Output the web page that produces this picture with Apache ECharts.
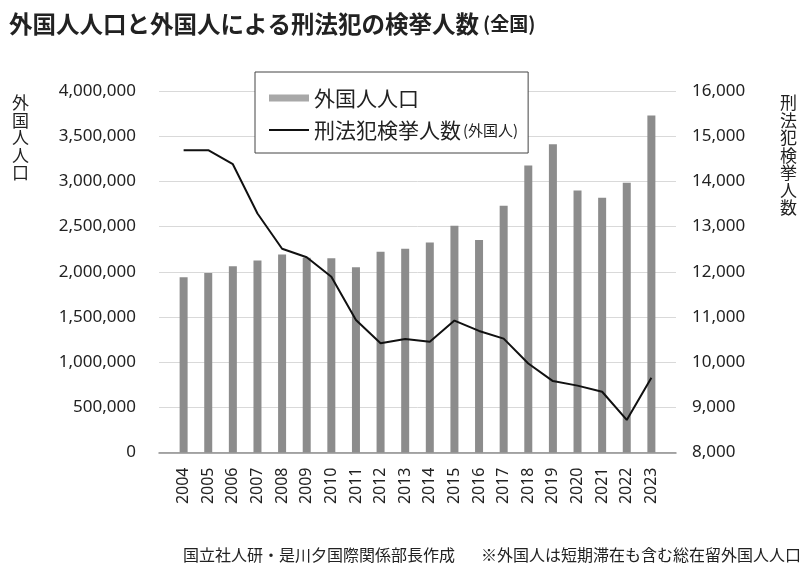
<!DOCTYPE html>
<html>
<head>
<meta charset="utf-8">
<script src="https://cdn.jsdelivr.net/npm/echarts@6/dist/echarts.min.js"></script>
<style>
  html, body { margin: 0; padding: 0; background: #fff; }
  #main { width: 810px; height: 572px; }
</style>
</head>
<body>
<div id="main"></div>
<script>
// 年
var years = ['2004', '2005', '2006', '2007', '2008', '2009', '2010', '2011', '2012', '2013',
             '2014', '2015', '2016', '2017', '2018', '2019', '2020', '2021', '2022', '2023'];
// 外国人人口 (左軸)
var population = [1940000, 1985000, 2060000, 2125000, 2190000, 2155000, 2150000, 2050000, 2220000, 2255000,
                  2325000, 2510000, 2350000, 2730000, 3175000, 3410000, 2900000, 2820000, 2985000, 3730000];
// 刑法犯検挙人数（外国人） (右軸)
var arrests = [14690, 14690, 14380, 13290, 12510, 12320, 11890, 10930, 10420, 10510,
               10450, 10920, 10690, 10520, 9970, 9580, 9480, 9345, 8720, 9655];
var leftTicks = [0, 4000000, 500000];
var rightTicks = [8000, 16000, 1000];

var numFont = "'Noto Sans', 'Noto Sans CJK JP', sans-serif";
var jpFont = "'Noto Sans CJK JP', sans-serif";

// 両端に空のカテゴリを足して軸の余白を作る
var cats = [''].concat(years, ['']);
var popData = [null].concat(population, [null]);
var arrData = [null].concat(arrests, [null]);

function commas(v) {
    return Number(v).toLocaleString('en-US');
}

var option = {
    animation: false,
    backgroundColor: '#fff',
    title: [
        {
            text: '外国人人口と外国人による刑法犯の検挙人数{s|(全国)}',
            left: 9, top: 10, padding: 0,
            textStyle: {
                fontFamily: jpFont, fontSize: 23.5, fontWeight: 'bold', color: '#222', lineHeight: 28,
                rich: { s: { fontFamily: jpFont, fontSize: 19, fontWeight: 'bold', color: '#222', padding: [0, 0, 0, 4] } }
            }
        },
        {
            text: '外\n国\n人\n人\n口',
            left: 12, top: 94, padding: 0,
            textStyle: { fontFamily: jpFont, fontSize: 17, fontWeight: 'normal', color: '#222', lineHeight: 17.5 }
        },
        {
            text: '刑\n法\n犯\n検\n挙\n人\n数',
            left: 780, top: 94, padding: 0,
            textStyle: { fontFamily: jpFont, fontSize: 17, fontWeight: 'normal', color: '#222', lineHeight: 17.5 }
        },
        {
            text: '国立社人研・是川夕国際関係部長作成',
            left: 183, top: 545, padding: 0,
            textStyle: { fontFamily: jpFont, fontSize: 16, fontWeight: 'normal', color: '#222', lineHeight: 20 }
        },
        {
            text: '※外国人は短期滞在も含む総在留外国人人口',
            right: 9, top: 545, padding: 0,
            textStyle: { fontFamily: jpFont, fontSize: 16, fontWeight: 'normal', color: '#222', lineHeight: 20 }
        }
    ],
    legend: {
        orient: 'vertical',
        left: 255, top: 72,
        padding: [15, 10, 12, 13],
        itemGap: 10,
        itemWidth: 40,
        itemHeight: 7,
        backgroundColor: '#fff',
        borderColor: '#444',
        borderWidth: 1,
        borderRadius: 0,
        data: [
            { name: '外国人人口', icon: 'rect', itemStyle: { color: '#a8a8a8' } },
            { name: '刑法犯検挙人数(外国人)', itemStyle: { opacity: 0 } }
        ],
        formatter: function (name) {
            return name.replace('(外国人)', '{s|(外国人)}');
        },
        textStyle: {
            fontFamily: jpFont, fontSize: 21, color: '#222', lineHeight: 22,
            rich: { s: { fontFamily: jpFont, fontSize: 15, color: '#222', padding: [0, 0, 0, 2] } }
        }
    },
    grid: { left: 159, right: 134, top: 91, bottom: 119.5 },
    xAxis: {
        type: 'category',
        data: cats,
        boundaryGap: false,
        axisTick: { show: false },
        axisLine: { lineStyle: { color: '#8f8f8f', width: 1.5 } },
        axisLabel: {
            interval: 0, rotate: 90, margin: 15,
            fontFamily: numFont, fontSize: 16, color: '#222'
        },
        splitLine: { show: false }
    },
    yAxis: [
        {
            type: 'value',
            min: leftTicks[0], max: leftTicks[1], interval: leftTicks[2],
            axisLine: { show: false },
            axisTick: { show: false },
            splitLine: { lineStyle: { color: '#d9d9d9', width: 1 } },
            axisLabel: { margin: 23, fontFamily: numFont, fontSize: 17, color: '#222', formatter: commas }
        },
        {
            type: 'value',
            min: rightTicks[0], max: rightTicks[1], interval: rightTicks[2],
            axisLine: { show: false },
            axisTick: { show: false },
            splitLine: { show: false },
            axisLabel: { margin: 16, fontFamily: numFont, fontSize: 17, color: '#222', formatter: commas }
        }
    ],
    series: [
        {
            name: '外国人人口',
            type: 'bar',
            yAxisIndex: 0,
            barWidth: 8,
            itemStyle: { color: '#8c8c8c' },
            data: popData,
            z: 2
        },
        {
            name: '刑法犯検挙人数(外国人)',
            type: 'line',
            yAxisIndex: 1,
            symbol: 'none',
            showSymbol: false,
            lineStyle: { color: '#111', width: 2 },
            itemStyle: { color: '#111' },
            data: arrData,
            z: 3
        }
    ]
};

var myChart = echarts.init(document.getElementById('main'));
myChart.setOption(option);
</script>
</body>
</html>
